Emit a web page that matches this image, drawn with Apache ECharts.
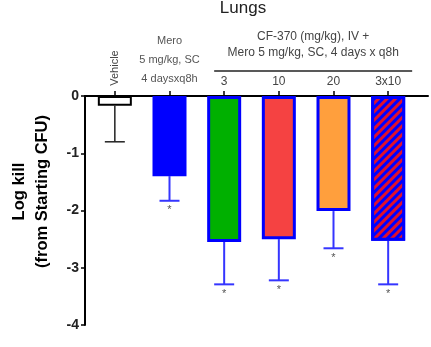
<!DOCTYPE html>
<html>
<head>
<meta charset="utf-8">
<script src="https://cdn.jsdelivr.net/npm/echarts@6/dist/echarts.min.js"></script>
<style>
  html, body { margin: 0; padding: 0; background: #fff; }
  #chart { width: 431px; height: 347px; }
</style>
</head>
<body>
<div id="chart"></div>
<script>
// data
const categories = ['Vehicle', 'Mero', '3', '10', '20', '3x10'];
const meanKill = [-0.17, -1.40, -2.55, -2.50, -2.01, -2.53];
const errLow = [-0.80, -1.83, -3.29, -3.22, -2.66, -3.29];
const significant = [false, true, true, true, true, true];
const barColors = ['#ffffff', '#0000ff', '#00b000', '#f54242', '#ff9f3d', '#0000ff'];
const yMin = -4;
const yMax = 0;
const yStep = 1;

const chart = echarts.init(document.getElementById('chart'));
const font = 'Liberation Sans, Arial, sans-serif';

let barData = meanKill.map((v, i) => {
    let item = {
        value: v,
        itemStyle: {
            color: barColors[i],
            borderColor: i === 0 ? '#000000' : '#0000ff',
            borderWidth: i === 0 ? 2 : 3,
        },
    };
    if (i === 5) {
        item.itemStyle.decal = {
            symbol: 'rect',
            color: '#e0102c',
            dashArrayX: [1, 0],
            dashArrayY: [3, 3],
            rotation: -Math.PI / 4,
        };
    }
    return item;
});

let option = {
    animation: false,
    title: {
        text: 'Lungs',
        left: 238,
        top: -5,
        textAlign: 'center',
        textStyle: { fontFamily: font, fontSize: 17, fontWeight: 'normal', color: '#222' },
    },
    grid: [{
        left: 87.5, right: 15.5, top: 96, bottom: 22,
    }, {
        left: 79, right: 3, top: 96, bottom: 22,
    }],
    xAxis: [{
        type: 'category',
        gridIndex: 0,
        position: 'top',
        data: categories,
        axisLine: { show: false },
        axisTick: {
            show: true, alignWithLabel: true, inside: false, length: 5,
            lineStyle: { color: '#000', width: 1.5 },
        },
        axisLabel: {
            interval: 0,
            margin: 8,
            fontFamily: font,
            fontSize: 12,
            color: '#444',
            formatter: (v) => {
                if (v === 'Vehicle') return '';
                if (v === 'Mero') return '{s|Mero}\n{s|5 mg/kg, SC}\n{s|4 daysxq8h}';
                return v;
            },
            rich: { s: { fontSize: 11, color: '#555', lineHeight: 19, fontFamily: font } },
        },
    }, {
        type: 'value',
        gridIndex: 1,
        position: 'top',
        axisLine: { show: true, lineStyle: { color: '#000', width: 2 } },
        axisTick: { show: false },
        axisLabel: { show: false },
        splitLine: { show: false },
    }],
    yAxis: [{
        type: 'value',
        gridIndex: 0,
        show: false,
        min: yMin, max: yMax, interval: yStep,
    }, {
        type: 'value',
        gridIndex: 1,
        min: yMin, max: yMax, interval: yStep,
        name: 'Log kill\n(from Starting CFU)',
        nameLocation: 'middle',
        nameGap: 31,
        nameTextStyle: {
            fontFamily: font, fontSize: 16.5, fontWeight: 'bold', color: '#000',
            lineHeight: 23, padding: [0, 0, 0, 38],
        },
        axisLine: { show: true, lineStyle: { color: '#000', width: 2 } },
        axisTick: { show: true, length: 4, lineStyle: { color: '#000', width: 1.5 } },
        axisLabel: {
            margin: 6, fontFamily: font, fontSize: 14, fontWeight: 'bold', color: '#222',
        },
        splitLine: { show: false },
    }],
    series: [{
        type: 'bar',
        xAxisIndex: 0,
        yAxisIndex: 0,
        barWidth: 34,
        data: barData,
        z: 2,
    }, {
        type: 'custom',
        xAxisIndex: 0,
        yAxisIndex: 0,
        z: 1,
        data: categories.map((c, i) => [i, meanKill[i], errLow[i], significant[i] ? 1 : 0]),
        renderItem: (params, api) => {
            let i = api.value(0);
            let top = api.coord([i, api.value(1)]);
            let bot = api.coord([i, api.value(2)]);
            let col = i === 0 ? '#222' : '#3535ff';
            let w = i === 0 ? 1.5 : 2;
            let children = [{
                type: 'line',
                shape: { x1: top[0], y1: top[1], x2: bot[0], y2: bot[1] },
                style: { stroke: col, lineWidth: w },
            }, {
                type: 'line',
                shape: { x1: bot[0] - 10, y1: bot[1], x2: bot[0] + 10, y2: bot[1] },
                style: { stroke: col, lineWidth: w },
            }];
            if (api.value(3)) {
                children.push({
                    type: 'text',
                    style: {
                        x: bot[0], y: bot[1] + 4, text: '*',
                        fontFamily: font, fontSize: 11, fill: '#555',
                        textAlign: 'center', textVerticalAlign: 'top',
                    },
                });
            }
            return { type: 'group', children: children };
        },
    }],
};
chart.setOption(option);

// header annotations above the bars
let pVeh = chart.convertToPixel({ xAxisIndex: 0 }, categories[0]);
let p3 = chart.convertToPixel({ xAxisIndex: 0 }, categories[2]);
let pLast = chart.convertToPixel({ xAxisIndex: 0 }, categories[5]);
chart.setOption({
    graphic: [{
        type: 'text',
        x: pVeh,
        y: 68,
        rotation: Math.PI / 2,
        style: {
            text: 'Vehicle', fontFamily: font, fontSize: 11, fill: '#444',
            textAlign: 'center', textVerticalAlign: 'middle',
        },
    }, {
        type: 'line',
        shape: { x1: p3 - 10, y1: 71, x2: pLast + 24, y2: 71 },
        style: { stroke: '#222', lineWidth: 1.5 },
    }, {
        type: 'text',
        x: (p3 - 10 + pLast + 24) / 2,
        y: 45,
        style: {
            text: 'CF-370 (mg/kg), IV +\nMero 5 mg/kg, SC, 4 days x q8h',
            fontFamily: font, fontSize: 12, fill: '#444', lineHeight: 16,
            textAlign: 'center', textVerticalAlign: 'middle',
        },
    }],
});
</script>
</body>
</html>
